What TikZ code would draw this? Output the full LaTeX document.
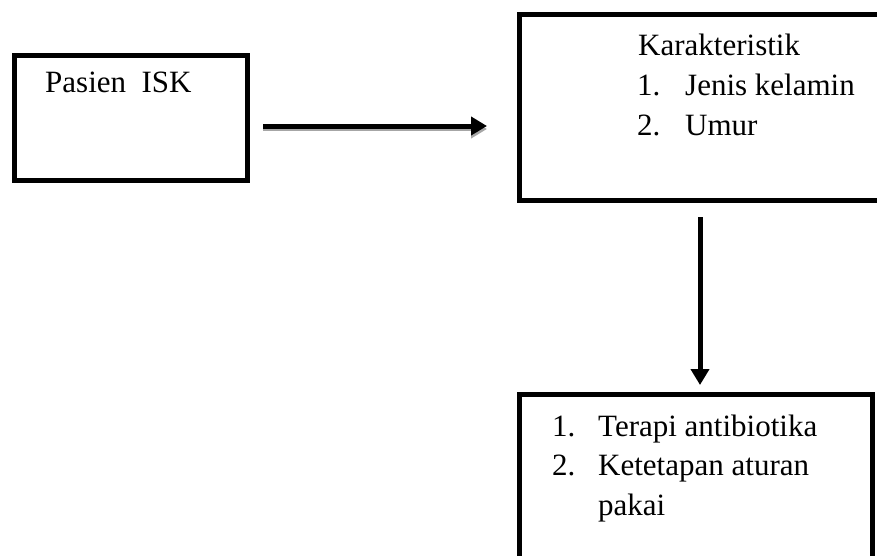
\documentclass[tikz,border=0pt]{standalone}
\usepackage{fontspec}
\setmainfont{Liberation Serif}
\usetikzlibrary{arrows.meta}

\tikzset{
  boxnode/.style={draw=black, line width=5pt, fill=white, rectangle},
  txt/.style={anchor=base west, inner sep=0pt, font=\fontsize{31}{40}\selectfont},
  flowarrow/.style={line width=5pt, -{Triangle[length=16pt,width=18pt]}},
}

\begin{document}
\begin{tikzpicture}[x=1pt, y=-1pt]
      \clip (0,0) rectangle (877,555);
      \fill[white] (0,0) rectangle (877,555);
      % boxes (right box runs off the page on the right / bottom)
      \node[boxnode, minimum width=233pt, minimum height=125pt]
            (pasien) at (131,118) {};
      \node[boxnode, minimum width=380pt, minimum height=186pt]
            (karak) at (709.5,107.5) {};
      \node[boxnode, minimum width=353pt, minimum height=206pt]
            (terapi) at (696,497.5) {};
      % texts
      \node[txt] (tPasien) at (45,92) {Pasien\ \ ISK};
      \node[txt] (tKarak) at (638,55) {Karakteristik};
      \node[txt] (nJenis) at (637,95) {1.};
      \node[txt] (tJenis) at (685,95) {Jenis kelamin};
      \node[txt] (nUmur) at (637,135) {2.};
      \node[txt] (tUmur) at (685,135) {Umur};
      \node[txt] (nTerapi) at (552,436) {1.};
      \node[txt] (tTerapi) at (598,436) {Terapi antibiotika};
      \node[txt] (nAturan) at (552,475) {2.};
      \node[txt] (tAturan) at (598,475) {Ketetapan aturan};
      \node[txt] (tPakai) at (598,515) {pakai};
      % connectors
      \coordinate (h0) at ([xshift=13pt, yshift=-8pt]pasien.east);
      \draw[flowarrow, shorten >=30pt,
            preaction={draw=gray!70, line width=4pt,
                       transform canvas={yshift=-3pt}}]
        (h0) -- (h0 -| karak.west);
      \coordinate (v0) at ([xshift=-9.5pt]karak.south);
      \draw[flowarrow, shorten <=14pt, shorten >=7pt]
        (v0) -- (v0 |- terapi.north);
\end{tikzpicture}
\end{document}
